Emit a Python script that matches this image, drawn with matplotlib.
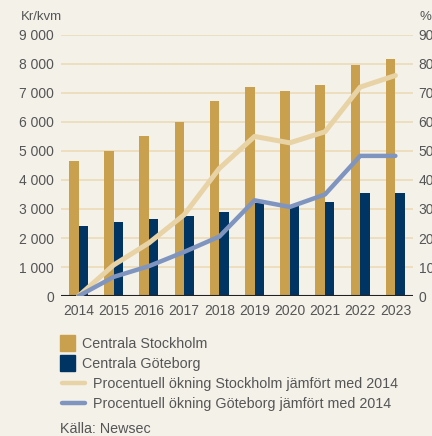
import matplotlib
matplotlib.use("Agg")
import matplotlib.pyplot as plt
from matplotlib.ticker import FuncFormatter
from matplotlib.patches import Rectangle
from matplotlib.lines import Line2D
import numpy as np

plt.rcParams["font.family"] = ["Liberation Sans", "DejaVu Sans"]

years = ["2014", "2015", "2016", "2017", "2018", "2019", "2020", "2021", "2022", "2023"]
stockholm = [4650, 5000, 5500, 6000, 6730, 7200, 7070, 7280, 7970, 8170]
goteborg = [2410, 2550, 2650, 2760, 2900, 3200, 3100, 3240, 3550, 3550]
pct_stockholm = [0, 10.7, 18.3, 28, 44, 55, 52.8, 56.6, 72, 76]
pct_goteborg = [0, 6.6, 10.3, 15.2, 20.5, 33, 30.7, 35, 48.3, 48.3]

bg = "#f4f1e9"
gold = "#c9a04e"
navy = "#003463"
tan = "#e8d3a6"
blue = "#7f95bf"
grid_c = "#ecdbb8"
txt = "#555555"

fig = plt.figure(figsize=(4.32, 4.36), dpi=100, facecolor=bg)
ax = fig.add_axes([0.141, 0.321, 0.815, 0.599])
ax.set_facecolor(bg)

x = np.arange(len(years))
w = 0.27
ax.bar(x - w / 2, stockholm, width=w, color=gold, zorder=2)
ax.bar(x + w / 2, goteborg, width=w, color=navy, zorder=2)

ax.set_xlim(-0.5, 9.5)
ax.set_ylim(0, 9000)
ax.set_yticks(range(0, 9001, 1000))
ax.yaxis.set_major_formatter(FuncFormatter(lambda v, p: f"{int(v):,}".replace(",", " ")))
ax.set_xticks(x)
ax.set_xticklabels(years)
ax.grid(axis="y", color=grid_c, linewidth=1.2, zorder=0)
ax.set_axisbelow(True)
for s in ax.spines.values():
    s.set_visible(False)
ax.axhline(0, color="#222222", linewidth=1.5, zorder=4)
ax.tick_params(length=0, labelsize=10, labelcolor=txt)
ax.tick_params(axis="x", pad=6)
ax.tick_params(axis="y", pad=5)

# right axis, cut off by the figure edge like in the source
ax2 = ax.twinx()
ax2.set_ylim(0, 90)
ax2.set_yticks(range(0, 91, 10))
for s in ax2.spines.values():
    s.set_visible(False)
ax2.tick_params(length=0, labelsize=10, labelcolor=txt, pad=4)
ax2.plot(x, pct_stockholm, color=tan, linewidth=3.6, solid_capstyle="round", zorder=3)
ax2.plot(x, pct_goteborg, color=blue, linewidth=3.2, solid_capstyle="round", zorder=3)

fig.text(21 / 432, 1 - 17 / 436, "Kr/kvm", fontsize=9.5, color=txt, va="center", ha="left")
fig.text(420 / 432, 1 - 17 / 436, "%", fontsize=9.5, color=txt, va="center", ha="left")

# legend drawn by hand
W, H = 432, 436
fig.add_artist(Rectangle((60 / W, 1 - 351 / H), 15 / W, 16 / H, color=gold, transform=fig.transFigure))
fig.add_artist(Rectangle((60 / W, 1 - 371 / H), 15 / W, 16 / H, color=navy, transform=fig.transFigure))
fig.add_artist(Line2D([62 / W, 85 / W], [1 - 383 / H] * 2, color=tan, linewidth=3.2,
                      solid_capstyle="round", transform=fig.transFigure))
fig.add_artist(Line2D([62 / W, 85 / W], [1 - 403 / H] * 2, color=blue, linewidth=3.2,
                      solid_capstyle="round", transform=fig.transFigure))
leg_kw = dict(fontsize=10.3, color=txt, va="center", ha="left")
fig.text(82 / W, 1 - 344 / H, "Centrala Stockholm", **leg_kw)
fig.text(82 / W, 1 - 364 / H, "Centrala Göteborg", **leg_kw)
fig.text(93 / W, 1 - 384 / H, "Procentuell ökning Stockholm jämfört med 2014", **leg_kw)
fig.text(93 / W, 1 - 404 / H, "Procentuell ökning Göteborg jämfört med 2014", **leg_kw)
fig.text(60 / W, 1 - 429 / H, "Källa: Newsec", **leg_kw)

fig.savefig("out.png", dpi=100, facecolor=bg)
